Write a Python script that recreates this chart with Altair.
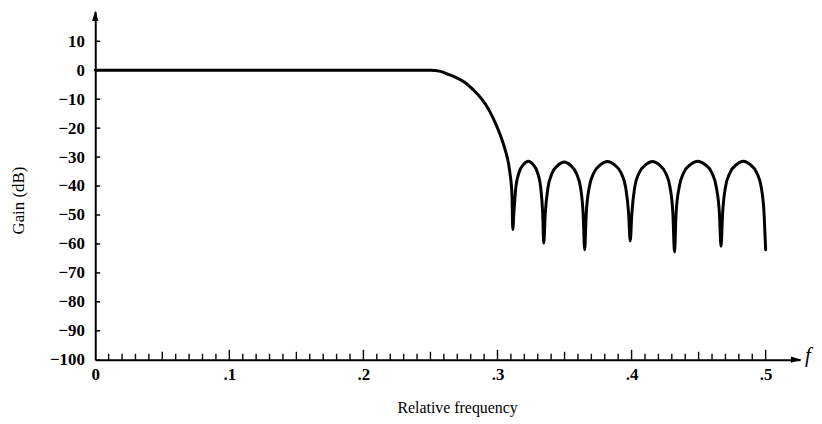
import altair as alt
import pandas as pd

# ---- curve (relative frequency, gain in dB) ----
FREQ = [
    0.000, 0.250, 0.2575, 0.2637, 0.2700, 0.2760, 0.2820, 0.2883, 0.2935, 0.2982,
    0.3020, 0.3055, 0.3092, 0.3108, 0.3114,
    0.3122, 0.3137, 0.3160, 0.3195, 0.3230, 0.3264, 0.3299, 0.3322, 0.3337, 0.3345,
    0.3356, 0.3376, 0.3406, 0.3452, 0.3498, 0.3543, 0.3589, 0.3620, 0.3639, 0.3650,
    0.3662, 0.3684, 0.3718, 0.3769, 0.3820, 0.3871, 0.3922, 0.3956, 0.3978, 0.3990,
    0.4002, 0.4023, 0.4056, 0.4106, 0.4155, 0.4205, 0.4254, 0.4287, 0.4308, 0.4320,
    0.4332, 0.4355, 0.4389, 0.4441, 0.4494, 0.4546, 0.4598, 0.4632, 0.4655, 0.4667,
    0.4679, 0.4700, 0.4734, 0.4784, 0.4834, 0.4883, 0.4933, 0.4967, 0.4988, 0.5000,
]
GAIN = [
    0.0, 0.0, -0.4, -1.5, -2.7, -4.3, -6.8, -10.0, -13.6, -18.0,
    -22.3, -27.2, -35.2, -43.0, -55.0,
    -49.4, -40.4, -35.4, -32.5, -31.4, -32.5, -35.4, -40.4, -49.4, -59.7,
    -49.7, -40.7, -35.7, -32.8, -31.7, -32.8, -35.7, -40.7, -49.7, -62.0,
    -49.5, -40.5, -35.5, -32.6, -31.5, -32.6, -35.5, -40.5, -49.5, -59.0,
    -49.5, -40.5, -35.5, -32.6, -31.5, -32.6, -35.5, -40.5, -49.5, -62.8,
    -49.4, -40.4, -35.4, -32.5, -31.4, -32.5, -35.4, -40.4, -49.4, -60.8,
    -49.4, -40.4, -35.4, -32.5, -31.4, -32.5, -35.4, -40.4, -49.4, -62.0,
]

# ---- axes ----
Y_TICKS = [-100, -90, -80, -70, -60, -50, -40, -30, -20, -10, 0, 10]
X_LABEL_TICKS = [0, 0.1, 0.2, 0.3, 0.4, 0.5]
X_MID_TICKS = [0.05, 0.15, 0.25, 0.35, 0.45]
X_MINOR_TICKS = [i / 100 for i in range(1, 50) if i % 5]
X_MAX = 0.5257
Y_MIN, Y_MAX = -100, 20.2

SERIF = "Liberation Serif"

curve = pd.DataFrame({"f": FREQ, "g": GAIN})

xs = alt.Scale(domain=[0, X_MAX], nice=False, zero=False)
ys = alt.Scale(domain=[Y_MIN, Y_MAX], nice=False, zero=False)

x_axis = alt.Axis(
    values=X_LABEL_TICKS,
    labelExpr="datum.value == 0 ? '0' : replace(format(datum.value, '.1f'), '0.', '.')",
    ticks=False, grid=False, domain=True, domainColor="black", domainWidth=2,
    labelFont=SERIF, labelFontSize=17, labelFontWeight="bold", labelColor="black",
    labelPadding=7, labelFlush=False, labelOverlap=False,
    title="Relative frequency", titleFont=SERIF, titleFontSize=16,
    titleFontWeight="normal", titleColor="black",
    titleX=365, titleY=48, titleAlign="center", titleBaseline="middle",
)
y_axis = alt.Axis(
    values=Y_TICKS,
    ticks=False, grid=False, domain=True, domainColor="black", domainWidth=2,
    labelFont=SERIF, labelFontSize=17, labelFontWeight="bold", labelColor="black",
    labelPadding=11, labelFlush=False, labelOverlap=False,
    title="Gain (dB)", titleFont=SERIF, titleFontSize=17,
    titleFontWeight="normal", titleColor="black",
    titleX=-77, titleY=190, titleAngle=270, titleAlign="center", titleBaseline="middle",
)


def X(field="f"):
    return alt.X(field + ":Q", scale=xs, axis=x_axis)


def Y(field="g"):
    return alt.Y(field + ":Q", scale=ys, axis=y_axis)


line = alt.Chart(curve).mark_line(
    color="black", strokeWidth=3, interpolate="monotone",
    strokeJoin="round", strokeCap="round",
).encode(x=X(), y=Y())

ytick_df = pd.DataFrame({"f": [0] * len(Y_TICKS), "g": Y_TICKS})
ytick = alt.Chart(ytick_df).mark_rule(
    color="black", strokeWidth=1.5, x2Offset=5
).encode(y=Y(), x=X(), x2="f:Q")


def xticks(vals, length):
    df = pd.DataFrame({"f": vals, "g": [Y_MIN] * len(vals)})
    return alt.Chart(df).mark_rule(
        color="black", strokeWidth=1.4, y2Offset=-length
    ).encode(x=X(), y=Y(), y2="g:Q")


xt_minor = xticks(X_MINOR_TICKS, 6)
xt_mid = xticks(X_MID_TICKS, 8)
xt_major = xticks(X_LABEL_TICKS[1:], 10)

ends = pd.DataFrame({"f": [0, X_MAX], "g": [Y_MAX, Y_MIN]})

arrow_up = alt.Chart(ends.iloc[[0]]).mark_point(
    shape="M0,-1L0.6,1L-0.6,1Z", filled=True, size=110, color="black",
    opacity=1, yOffset=4,
).encode(x=X(), y=Y())

arrow_right = alt.Chart(ends.iloc[[1]]).mark_point(
    shape="M1,0L-1,0.6L-1,-0.6Z", filled=True, size=110, color="black",
    opacity=1, xOffset=-4,
).encode(x=X(), y=Y())

f_label = alt.Chart(ends.iloc[[1]]).mark_text(
    text="f", font=SERIF, fontStyle="italic", fontSize=21, align="left",
    baseline="middle", dx=5, dy=-4, color="black",
).encode(x=X(), y=Y())

chart = alt.layer(
    line, xt_minor, xt_mid, xt_major, ytick, arrow_up, arrow_right, f_label
).properties(
    width=711, height=351,
    padding={"left": 88, "top": 2, "right": 14, "bottom": 60},
    autosize=alt.AutoSizeParams(type="none"),
    background="white",
).configure_view(stroke=None)

chart.save("out.html", embed_options={"renderer": "svg", "actions": False})
